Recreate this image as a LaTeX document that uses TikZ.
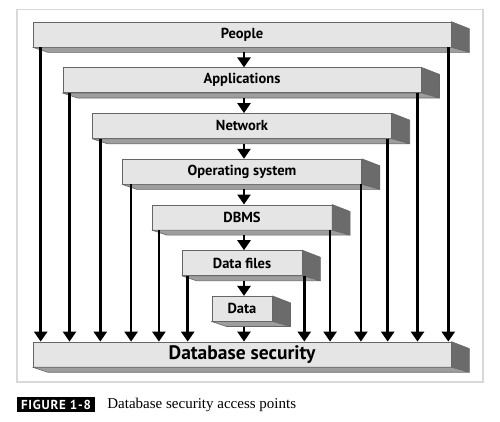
\documentclass[tikz,border=0pt]{standalone}
\usepackage{fontspec}
\setmainfont{Liberation Serif}
\newfontfamily\labelfont{PT Sans}
\newfontfamily\tagfont[LetterSpace=6]{PT Sans}
\usetikzlibrary{calc,arrows.meta,positioning}
\definecolor{facegray}{gray}{0.9}
\definecolor{sidegray}{gray}{0.42}
\definecolor{stripgray}{gray}{0.62}
\definecolor{edgegray}{gray}{0.4}
\begin{document}
\begin{tikzpicture}[x=1pt,y=1pt]
        \tikzstyle{slab}=[draw=edgegray, line width=0.6pt, fill=facegray, inner sep=0pt, minimum height=25pt];
        \tikzstyle{sideface}=[draw=edgegray, line width=0.6pt, fill=sidegray, line join=round];
        \tikzstyle{stripface}=[draw=edgegray, line width=0.6pt, fill=stripgray, line join=round];
        \tikzstyle{access}=[line width=2.6pt, -{Triangle[width=13pt,length=10pt]}];
        \useasboundingbox (0,0) rectangle (500,-421);
        \draw[gray!30, line width=1.5pt] (17,-9.5) rectangle (483,-382);

        % layers, outermost first; the last one is the target
        \foreach \name/\w/\fs/\txt [count=\i from 0] in {ppl/418/14.5/People, app/358.4/14.5/Applications,
            net/298.8/14.5/Network, os/239.2/14.5/Operating system, dbms/179.6/14.5/DBMS,
            files/120/14.5/Data files, data/60.4/14.5/Data, dbsec/418/19.5/Database security}{
          \node[slab, minimum width=\w pt, font=\labelfont\bfseries\fontsize{\fs}{\fs}\selectfont]
            (\name) at (242,{-34.5-45.7*\i}) {\txt};
          \filldraw[sideface] (\name.north east) -- ++(18,-7) -- ($(\name.south east)+(18,-5)$)
            -- (\name.south east) -- cycle;
          \filldraw[stripface] (\name.south west) -- (\name.south east) -- ($(\name.south east)+(18,-5)$)
            -- ($(\name.south west)+(15,-5)$) -- cycle;
        }

        % straight down through the layers
        \foreach \a/\b in {ppl/app, app/net, net/os, os/dbms, dbms/files, files/data, data/dbsec}{
          \draw[access] ($(\a.south)+(2,-5)$) -- ($(\b.north)+(2,0)$);
        }

        % direct paths to the target
        \foreach \name/\dl/\dr in {ppl/8/-3, app/7/-4, net/8/-4, os/9/-1, dbms/7/-2, files/6/2}{
          \draw[access] ($(\name.south west)+(\dl,0)$) coordinate (l\name) -- (l\name |- dbsec.north);
          \draw[access] ($(\name.south east)+(\dr,0)$) coordinate (r\name) -- (r\name |- dbsec.north);
        }

        \node[fill=black, text=white, inner sep=0pt, minimum width=78pt, minimum height=15.5pt,
          font=\tagfont\bfseries\fontsize{13}{13}\selectfont] (figtag) at (56,-404.5) {FIGURE 1-8};
        \node[right=12pt of figtag, inner sep=0pt, font=\fontsize{15}{15}\selectfont] (figcaption)
          {Database security access points};
      \end{tikzpicture}
\end{document}
